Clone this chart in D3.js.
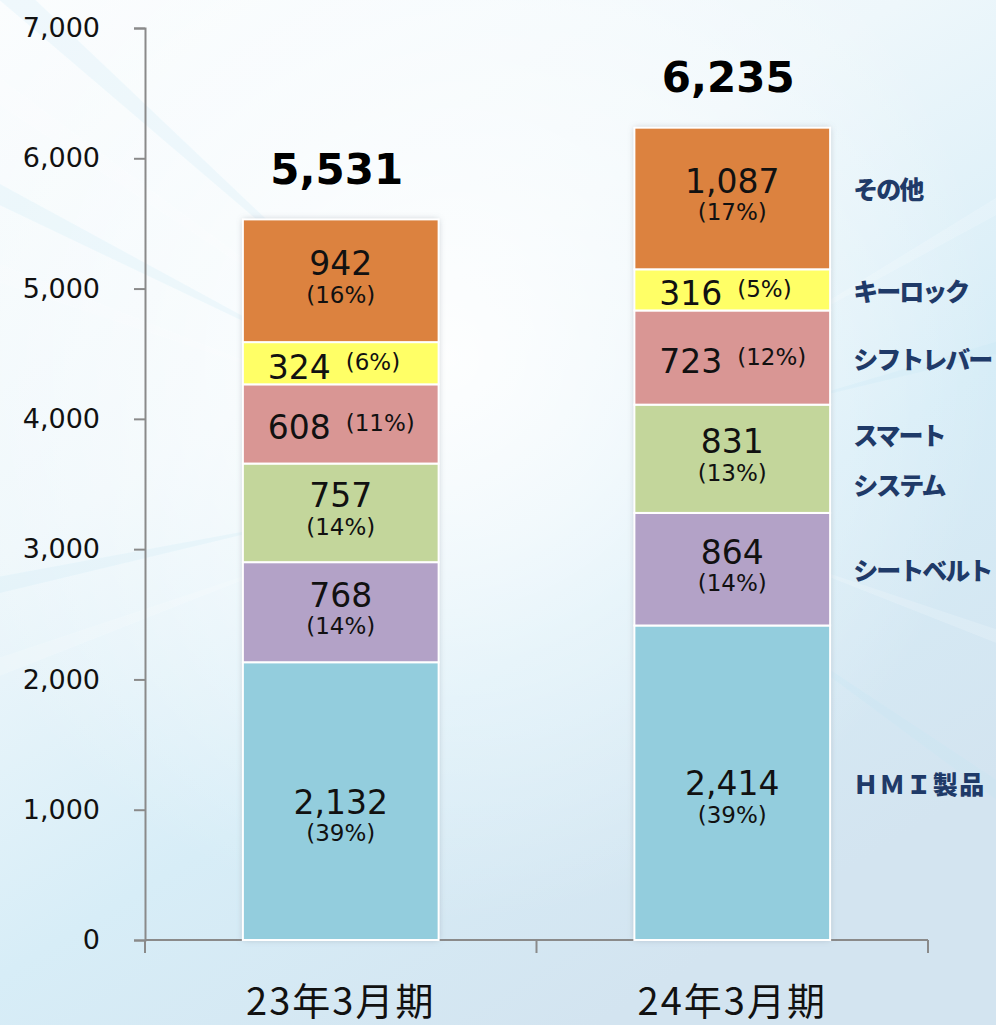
<!DOCTYPE html>
<html lang="ja">
<head>
<meta charset="utf-8">
<title>売上構成</title>
<script src="https://d3js.org/d3.v7.min.js"></script>
<style>
  html, body { margin: 0; padding: 0; }
  svg { display: block; }
  .tick text { font-family: "DejaVu Sans", Verdana, sans-serif; }
  .val, .total { font-family: "DejaVu Sans", Verdana, sans-serif; }
  .cat { font-family: "Noto Sans CJK JP", sans-serif; }
  .legend { font-family: "Noto Sans CJK JP", sans-serif; font-weight: 900; }
</style>
</head>
<body>
<svg id="chart" width="996" height="1025"></svg>
<script>
// data
var periods = ["23年3月期", "24年3月期"]
var segments = ["HMI", "シートベルト", "スマートシステム", "シフトレバー", "キーロック", "その他"]
var legendLines = [["ＨＭＩ製品"], ["シートベルト"], ["スマート", "システム"], ["シフトレバー"], ["キーロック"], ["その他"]]
var values23 = [2132, 768, 757, 608, 324, 942]
var values24 = [2414, 864, 831, 723, 316, 1087]
var share23 = [39, 14, 14, 11, 6, 16]
var share24 = [39, 14, 13, 12, 5, 17]
var totals = [5531, 6235]
var yTicks = [0, 1000, 2000, 3000, 4000, 5000, 6000, 7000]

var colors = ["#93cddd", "#b3a2c7", "#c3d69b", "#d99694", "#ffff66", "#dc823f"]

var W = 996, H = 1025
var svg = d3.select("#chart")

// background
var defs = svg.append("defs")
var bg = defs.append("linearGradient").attr("id", "bg")
  .attr("x1", 0).attr("y1", 0).attr("x2", 0.6).attr("y2", 1)
bg.append("stop").attr("offset", "0%").attr("stop-color", "#fbfdfe")
bg.append("stop").attr("offset", "40%").attr("stop-color", "#eef7fb")
bg.append("stop").attr("offset", "70%").attr("stop-color", "#d7edf7")
bg.append("stop").attr("offset", "100%").attr("stop-color", "#d3e4f0")
svg.append("rect").attr("width", W).attr("height", H).attr("fill", "url(#bg)")

var glow = defs.append("radialGradient").attr("id", "glow")
  .attr("cx", 0.45).attr("cy", 0.35).attr("r", 0.55)
glow.append("stop").attr("offset", "0%").attr("stop-color", "#ffffff").attr("stop-opacity", 0.9)
glow.append("stop").attr("offset", "100%").attr("stop-color", "#ffffff").attr("stop-opacity", 0)
svg.append("rect").attr("width", W).attr("height", H).attr("fill", "url(#glow)")

// faint light rays from behind the chart
var rayAngles = [200, 207, 215, 222, 160, 168, 330, 345, 20, 35]
var rays = svg.append("g").attr("opacity", 0.18)
rayAngles.forEach(function(a, i) {
  var r = a * Math.PI / 180, cx = 540, cy = 470, L = 1000, w = 0.02, r0 = 250
  var p = [[cx + r0 * Math.cos(r), cy + r0 * Math.sin(r)],
    [cx + L * Math.cos(r - w), cy + L * Math.sin(r - w)],
    [cx + L * Math.cos(r + w), cy + L * Math.sin(r + w)]]
  rays.append("path").attr("d", "M" + p.join("L") + "Z")
    .attr("fill", i % 2 ? "#bfe6f5" : "#ffffff")
})

var shadow = defs.append("filter").attr("id", "shadow")
  .attr("x", "-10%").attr("y", "-10%").attr("width", "120%").attr("height", "120%")
shadow.append("feDropShadow").attr("dx", 0).attr("dy", 0).attr("stdDeviation", 3)
  .attr("flood-color", "#7f8a96").attr("flood-opacity", 0.45)

// scales
var x = d3.scaleBand().domain(periods).range([145, 928]).paddingInner(0.5).paddingOuter(0.25)
var y = d3.scaleLinear().domain([0, 7000]).range([940, 28])

var rows = periods.map(function(p, j) {
  var vals = j === 0 ? values23 : values24
  var row = { period: p }
  segments.forEach(function(s, i) { row[s] = vals[i] })
  return row
})
var shares = [share23, share24]
var series = d3.stack().keys(segments)(rows)

// y axis
var yAxis = svg.append("g").attr("transform", "translate(145,0)")
  .call(d3.axisLeft(y).tickValues(yTicks).tickFormat(d3.format(",")).tickSize(11).tickPadding(34))
yAxis.select(".domain").attr("stroke", "#8a8a8a").attr("stroke-width", 2)
yAxis.selectAll(".tick line").attr("stroke", "#8a8a8a").attr("stroke-width", 2)
yAxis.selectAll(".tick text").attr("font-size", 27).attr("fill", "#111")

// x axis: base line and boundary ticks
var step = x.step()
var x0 = x.range()[0]
var bounds = d3.range(periods.length + 1).map(function(i) { return x0 + i * step })
svg.append("line").attr("x1", x0).attr("x2", bounds[bounds.length - 1])
  .attr("y1", y(0)).attr("y2", y(0)).attr("stroke", "#8a8a8a").attr("stroke-width", 2)
svg.selectAll(".xtick").data(bounds).enter().append("line")
  .attr("x1", d => d).attr("x2", d => d).attr("y1", y(0)).attr("y2", y(0) + 13)
  .attr("stroke", "#8a8a8a").attr("stroke-width", 2)

svg.selectAll(".cat").data(periods).enter().append("text")
  .attr("class", "cat")
  .attr("x", d => x(d) + x.bandwidth() / 2)
  .attr("y", 1015)
  .attr("text-anchor", "middle")
  .attr("font-size", 38)
  .attr("letter-spacing", 2)
  .attr("fill", "#111")
  .text(d => d)

// bars
var barG = svg.append("g")
periods.forEach(function(p, j) {
  barG.append("rect")
    .attr("x", x(p)).attr("width", x.bandwidth())
    .attr("y", y(totals[j])).attr("height", y(0) - y(totals[j]))
    .attr("fill", "#fff").attr("filter", "url(#shadow)")
})
series.forEach(function(s, i) {
  barG.selectAll(".seg" + i).data(s).enter().append("rect")
    .attr("x", d => x(d.data.period))
    .attr("width", x.bandwidth())
    .attr("y", d => y(d[1]))
    .attr("height", d => y(d[0]) - y(d[1]))
    .attr("fill", colors[i])
    .attr("stroke", "#fff")
    .attr("stroke-width", 2)
})

// segment labels
var fmt = d3.format(",")
series.forEach(function(s, i) {
  s.forEach(function(d, j) {
    var cx = x(d.data.period) + x.bandwidth() / 2
    var cy = (y(d[0]) + y(d[1])) / 2
    var h = y(d[0]) - y(d[1])
    var v = d[1] - d[0]
    var pct = "(" + shares[j][i] + "%)"
    if (h < 95) {
      svg.append("text").attr("class", "val")
        .attr("x", cx - 10).attr("y", cy + 4)
        .attr("text-anchor", "end").attr("dominant-baseline", "central")
        .attr("font-size", 33).attr("fill", "#111").text(fmt(v))
      svg.append("text").attr("class", "val")
        .attr("x", cx + 5).attr("y", cy - 1)
        .attr("text-anchor", "start").attr("dominant-baseline", "central")
        .attr("font-size", 23).attr("fill", "#111").text(pct)
    } else {
      var off = i === 0 ? 18 : 0
      svg.append("text").attr("class", "val")
        .attr("x", cx).attr("y", cy - 17 + off)
        .attr("text-anchor", "middle").attr("dominant-baseline", "central")
        .attr("font-size", 33).attr("fill", "#111").text(fmt(v))
      svg.append("text").attr("class", "val")
        .attr("x", cx).attr("y", cy + 14 + off)
        .attr("text-anchor", "middle").attr("dominant-baseline", "central")
        .attr("font-size", 23).attr("fill", "#111").text(pct)
    }
  })
})

// totals
svg.selectAll(".total").data(totals).enter().append("text")
  .attr("class", "total")
  .attr("x", (d, j) => x(periods[j]) + x.bandwidth() / 2 - 4)
  .attr("y", d => y(d) - 50)
  .attr("text-anchor", "middle").attr("dominant-baseline", "central")
  .attr("font-size", 42).attr("font-weight", "bold").attr("fill", "#000")
  .text(d => fmt(d))

// segment names to the right of the second bar
var last = series.map(s => s[s.length - 1])
var lx = x(periods[periods.length - 1]) + x.bandwidth() + 23
last.forEach(function(d, i) {
  var cy = (y(d[0]) + y(d[1])) / 2
  var lines = legendLines[i]
  lines.forEach(function(t, k) {
    svg.append("text").attr("class", "legend")
      .attr("x", lx)
      .attr("y", cy + (k - (lines.length - 1) / 2) * 50 - (i === 5 ? 10 : 0))
      .attr("dominant-baseline", "central")
      .attr("font-size", 25)
      .attr("letter-spacing", i === 0 ? 1.5 : -2)
      .attr("fill", "#1f3a68")
      .text(t)
  })
})
</script>
</body>
</html>
